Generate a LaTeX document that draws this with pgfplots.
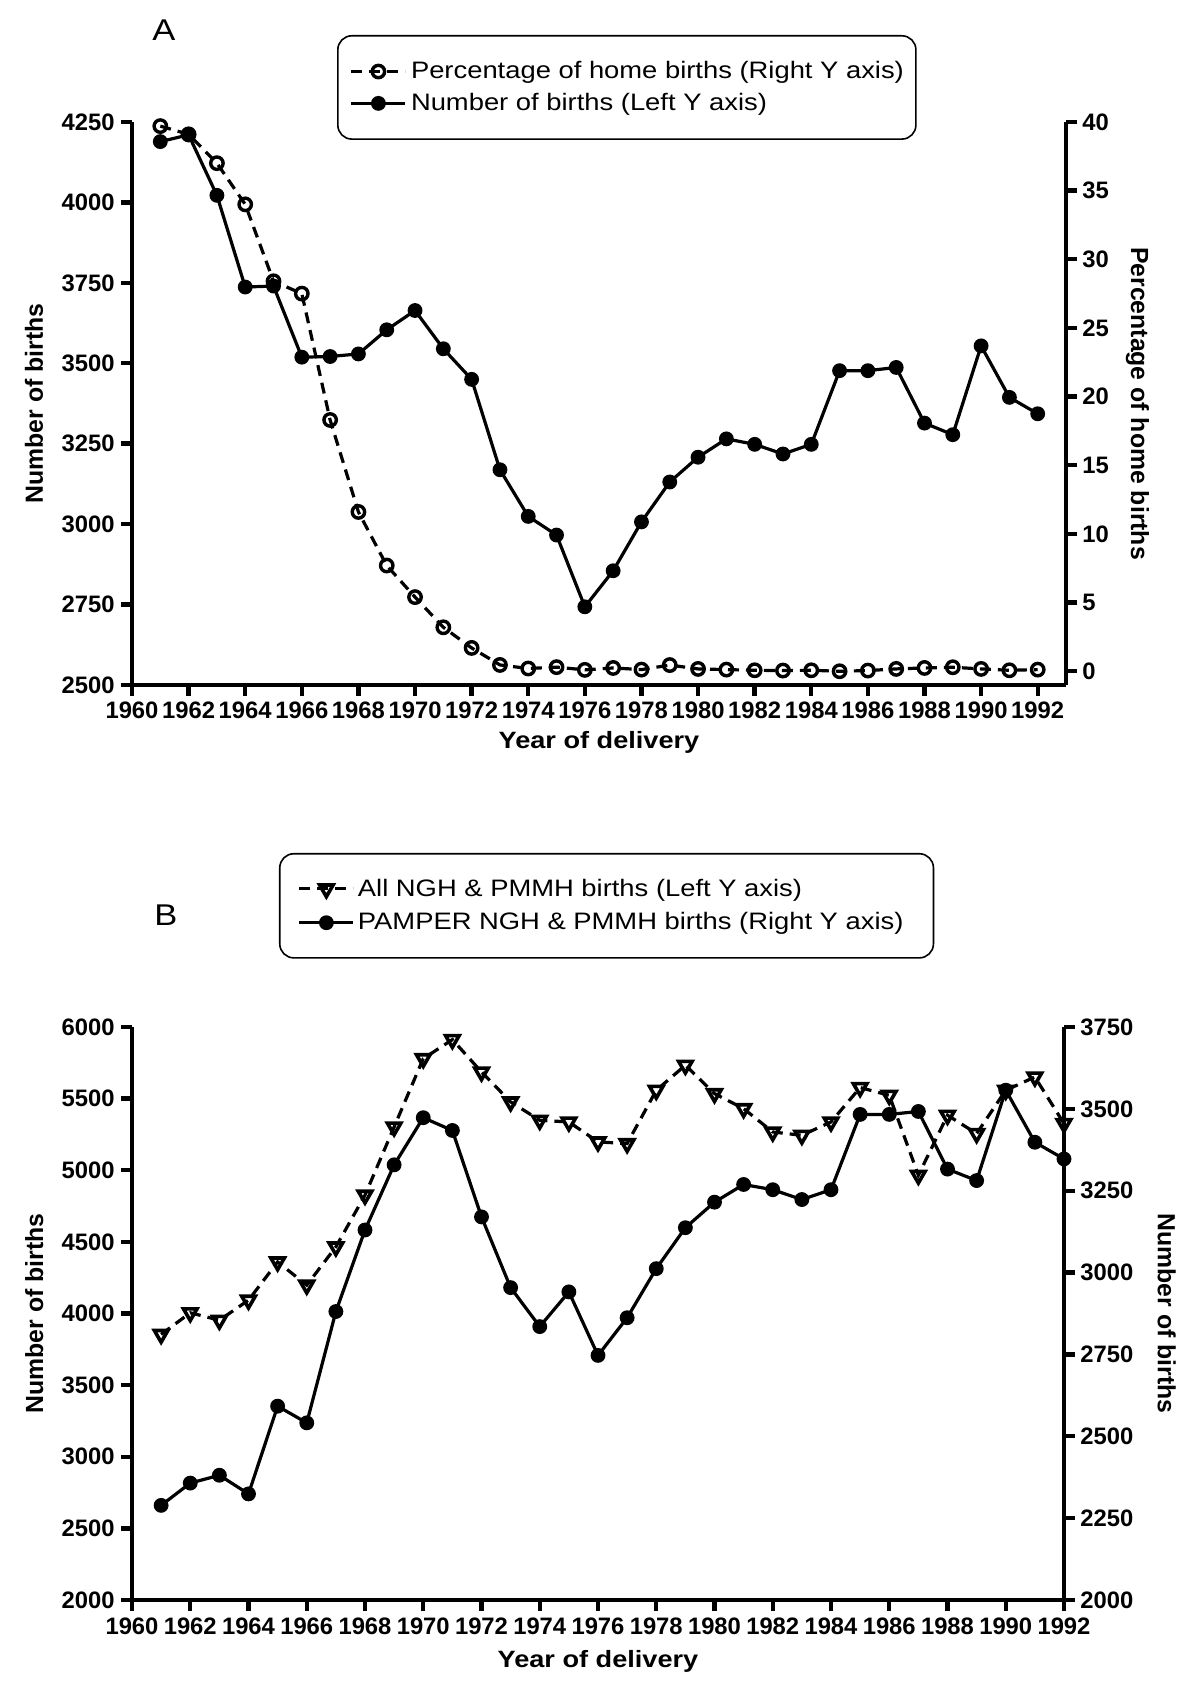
\documentclass[border=0pt]{standalone}
\usepackage{fontspec}
\setmainfont[FakeStretch=1.15]{Liberation Sans}
\newfontfamily\plainfont{Liberation Sans}
\usepackage{pgfplots}
\usepackage{pgfplotstable}
\pgfplotsset{compat=1.18}

\pgfplotstableread[row sep=\\]{
year births pct \\
1961 4189 39.7 \\
1962 4210 39.1 \\
1963 4022 37.0 \\
1964 3737 34.0 \\
1965 3740 28.4 \\
1966 3519 27.5 \\
1967 3521 18.3 \\
1968 3529 11.6 \\
1969 3604 7.7 \\
1970 3664 5.4 \\
1971 3545 3.2 \\
1972 3450 1.7 \\
1973 3169 0.46 \\
1974 3024 0.2 \\
1975 2966 0.3 \\
1976 2743 0.1 \\
1977 2855 0.24 \\
1978 3007 0.12 \\
1979 3131 0.45 \\
1980 3208 0.17 \\
1981 3265 0.12 \\
1982 3248 0.07 \\
1983 3218 0.05 \\
1984 3248 0.07 \\
1985 3477 0.0 \\
1986 3477 0.05 \\
1987 3487 0.17 \\
1988 3314 0.24 \\
1989 3278 0.29 \\
1990 3554 0.17 \\
1991 3394 0.07 \\
1992 3343 0.12 \\
}\dataA

\pgfplotstableread[row sep=\\]{
year all pamper \\
1961 3854 2289 \\
1962 4005 2357 \\
1963 3953 2381 \\
1964 4093 2324 \\
1965 4360 2592 \\
1966 4198 2541 \\
1967 4465 2881 \\
1968 4826 3130 \\
1969 5302 3329 \\
1970 5779 3473 \\
1971 5912 3434 \\
1972 5686 3170 \\
1973 5477 2954 \\
1974 5349 2835 \\
1975 5337 2941 \\
1976 5198 2747 \\
1977 5186 2862 \\
1978 5558 3012 \\
1979 5733 3137 \\
1980 5535 3215 \\
1981 5430 3269 \\
1982 5267 3253 \\
1983 5244 3223 \\
1984 5337 3253 \\
1985 5577 3483 \\
1986 5523 3483 \\
1987 4965 3492 \\
1988 5384 3316 \\
1989 5256 3281 \\
1990 5558 3557 \\
1991 5651 3398 \\
1992 5326 3347 \\
}\dataB

\pgfplotsset{
  prism/.style={
    scale only axis,
    clip=false,
    tick align=outside,
    major tick length=5.5pt,
    every tick/.style={black, line width=2.2pt},
    axis line style={line width=2.3pt, -},
    tick label style={font=\plainfont\bfseries\fontsize{11.9}{12}\selectfont, inner sep=0pt},
    /pgf/number format/assume math mode=true,
    /pgf/number format/1000 sep={},
    ylabel style={font=\plainfont\bfseries\fontsize{12.4}{14}\selectfont, inner sep=0pt},
    xlabel style={font=\bfseries\fontsize{11.8}{14}\selectfont, inner sep=0pt},
    legend cell align=left,
    legend image code/.code={\draw[mark repeat=2,mark phase=2] plot coordinates {(0pt,0pt) (13.5pt,0pt) (27pt,0pt)};},
    legend image post style={sharp corners},
  },
  solidser/.style={black, line width=1.6pt, mark=*, mark size=2.9pt, mark options={solid, sharp corners}},
  circser/.style={black, line width=1.6pt, dash pattern=on 5.5pt off 3.5pt, mark=o, mark size=3.1pt, mark options={solid, line width=1.7pt, sharp corners}},
  triser/.style={black, line width=1.6pt, dash pattern=on 5.5pt off 3.5pt, mark=triangle, mark size=3.9pt, mark options={solid, line width=1.8pt, rotate=180, sharp corners}},
}

\begin{document}
\begin{tikzpicture}
\useasboundingbox (0,0) rectangle (600pt,842.5pt);

% ---------------- Panel A ----------------
\begin{axis}[prism, at={(66pt,500pt)}, anchor=south west,
  width=467pt, height=281.5pt,
  xmin=1960, xmax=1993, ymin=2500, ymax=4250,
  axis x line*=bottom, axis y line*=left,
  xtick={1960,1962,...,1992}, ytick={2500,2750,...,4250},
  xticklabel style={yshift=-2.5pt},
  yticklabel style={xshift=-3pt},
  xlabel={Year of delivery}, ylabel={Number of births},
  xlabel style={at={(axis description cs:0.5,-0.1137)}, anchor=base},
  ylabel style={at={(axis description cs:-0.0953,0.5)}, anchor=base},
]
\addplot[solidser] table[x=year, y=births] {\dataA};
\end{axis}

\begin{axis}[prism, at={(66pt,500pt)}, anchor=south west,
  width=467pt, height=281.5pt,
  xmin=1960, xmax=1993, ymin=-1, ymax=40,
  axis x line=none, axis y line*=right,
  ytick={0,5,...,40},
  yticklabel style={xshift=2.5pt},
  ylabel={Percentage of home births},
  ylabel style={at={(axis description cs:1.0696,0.5)}, anchor=base, rotate=180},
  legend style={at={(0.2195,1.1545)}, anchor=north west, draw=black, line width=0.8pt,
    rounded corners=7pt, inner xsep=6pt, inner ysep=12.8pt, row sep=5.8pt, column sep=2pt,
    nodes={inner sep=0pt}, font=\fontsize{11.9}{14}\selectfont},
]
\addplot[circser] table[x=year, y=pct] {\dataA};
\addlegendentry{Percentage of home births (Right Y axis)}
\addlegendimage{solidser}
\addlegendentry{Number of births (Left Y axis)}
\end{axis}

\node[anchor=base, font=\fontsize{15}{16}\selectfont] at (82pt,822pt) {A};

% ---------------- Panel B ----------------
\begin{axis}[prism, at={(66pt,42.5pt)}, anchor=south west,
  width=466pt, height=286.5pt,
  xmin=1960, xmax=1992, ymin=2000, ymax=6000,
  axis x line*=bottom, axis y line*=left,
  xtick={1960,1962,...,1992}, ytick={2000,2500,...,6000},
  xticklabel style={yshift=-3pt},
  yticklabel style={xshift=-3pt},
  xlabel={Year of delivery}, ylabel={Number of births},
  xlabel style={at={(axis description cs:0.5,-0.1170)}, anchor=base},
  ylabel style={at={(axis description cs:-0.0953,0.5)}, anchor=base},
]
\addplot[triser] table[x=year, y=all] {\dataB};
\end{axis}

\begin{axis}[prism, at={(66pt,42.5pt)}, anchor=south west,
  width=466pt, height=286.5pt,
  xmin=1960, xmax=1992, ymin=2000, ymax=3750,
  axis x line=none, axis y line*=right,
  ytick={2000,2250,...,3750},
  yticklabel style={xshift=2.5pt},
  ylabel={Number of births},
  ylabel style={at={(axis description cs:1.1006,0.5)}, anchor=base, rotate=180},
  legend style={at={(0.1577,1.3037)}, anchor=north west, draw=black, line width=0.8pt,
    rounded corners=7pt, inner xsep=9pt, inner ysep=12.5pt, row sep=6.8pt, column sep=1.5pt,
    nodes={inner sep=0pt}, font=\fontsize{11.9}{14}\selectfont},
]
\addlegendimage{triser}
\addlegendentry{All NGH \& PMMH births (Left Y axis)}
\addplot[solidser] table[x=year, y=pamper] {\dataB};
\addlegendentry{PAMPER NGH \& PMMH births (Right Y axis)\hspace*{6pt}}
\end{axis}

\node[anchor=base, font=\fontsize{15}{16}\selectfont] at (83pt,379.5pt) {B};
\end{tikzpicture}
\end{document}
